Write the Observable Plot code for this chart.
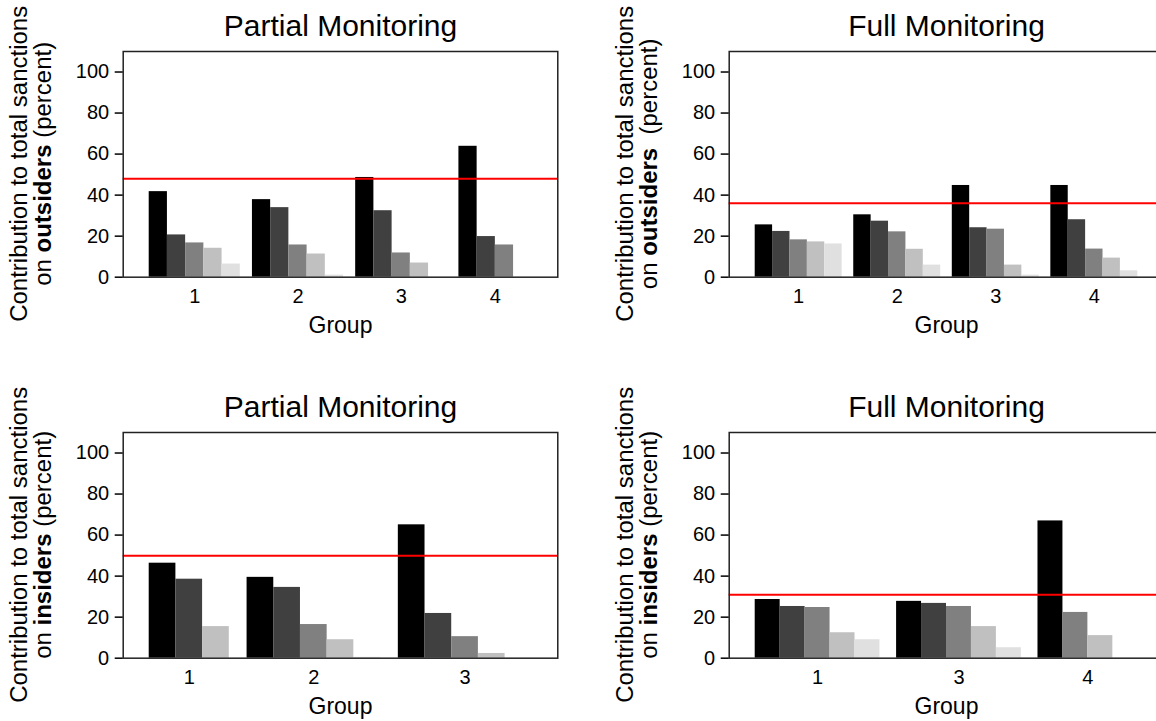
<!DOCTYPE html>
<html><head><meta charset="utf-8">
<script src="https://cdn.jsdelivr.net/npm/d3@7"></script>
<script src="https://cdn.jsdelivr.net/npm/@observablehq/plot@0.6"></script>
<style>
html,body{margin:0;padding:0;background:#fff;}
#fig{position:relative;width:1156px;height:721px;overflow:hidden;background:#fff;}
.panel{position:absolute;}
.panel svg{max-width:none !important;}
</style></head><body><div id="fig"></div>
<script>
// ---------- data ----------
const panelTitles = ["Partial Monitoring", "Full Monitoring", "Partial Monitoring", "Full Monitoring"];
const targetWords = ["outsiders", "outsiders", "insiders", "insiders"];
const memberShades = [1, 2, 3, 4, 5];

// top-left: outsiders, partial monitoring
const groupsTL = ["1", "2", "3", "4"];
const valuesTL = [[41.7, 20.6, 16.7, 14.1, 6.4], [37.8, 33.9, 15.7, 11.3, 1.0], [48.6, 32.4, 11.8, 6.9, 0], [63.8, 19.8, 15.7, 0]];
const membersTL = [[1, 2, 3, 4, 5], [1, 2, 3, 4, 5], [1, 2, 3, 4, 5], [1, 2, 3, 4]];
const refTL = 48.0;

// top-right: outsiders, full monitoring
const groupsTR = ["1", "2", "3", "4"];
const valuesTR = [[25.5, 22.3, 18.2, 17.2, 16.2], [30.4, 27.3, 22.1, 13.6, 5.9], [44.7, 24.1, 23.4, 5.9, 1.0], [44.7, 28.0, 13.7, 9.3, 3.1]];
const membersTR = [[1, 2, 3, 4, 5], [1, 2, 3, 4, 5], [1, 2, 3, 4, 5], [1, 2, 3, 4, 5]];
const refTR = 36.0;

// bottom-left: insiders, partial monitoring
const groupsBL = ["1", "2", "3"];
const valuesBL = [[46.3, 38.5, 15.4], [39.4, 34.5, 16.4, 9.0, 0.4], [65.0, 21.8, 10.5, 2.3, 0]];
const membersBL = [[1, 2, 4], [1, 2, 3, 4, 5], [1, 2, 3, 4, 5]];
const refBL = 49.9;

// bottom-right: insiders, full monitoring
const groupsBR = ["1", "3", "4"];
const valuesBR = [[28.6, 25.2, 24.7, 12.4, 9.0], [27.7, 26.7, 25.2, 15.4, 5.1], [66.9, 22.3, 11.0, 0]];
const membersBR = [[1, 2, 3, 4, 5], [1, 2, 3, 4, 5], [1, 3, 4, 5]];
const refBR = 30.9;

const yTicks = [0, 20, 40, 60, 80, 100];

// ---------- layout ----------
const FONT = '"Liberation Sans", Arial, Helvetica, sans-serif';
const shadeColors = ["#000000", "#404040", "#808080", "#c0c0c0", "#e0e0e0"];
const SVG_W = 605.6, M_LEFT = 122.7, M_RIGHT = 48.3, M_TOP = 51, FRAME_BOTTOM = 276.7;
const FRAME_W = SVG_W - M_LEFT - M_RIGHT;
const OUTER = 26, GAP = 2 / 3;

function buildRows(groups, values, members) {
  const rows = [], centers = [];
  let pos = 0;
  groups.forEach((g, gi) => {
    const n = values[gi].length;
    values[gi].forEach((v, j) => rows.push({group: g, member: members[gi][j], value: v, x1: pos + j, x2: pos + j + 1}));
    centers.push({group: g, c: pos + n / 2});
    pos += n + GAP;
  });
  const U = pos - GAP;
  const w = (FRAME_W - 2 * OUTER) / U;
  const m = OUTER / w;
  return {rows, centers, domain: [-m, U + m]};
}

function panel(cfg) {
  const {rows, centers, domain} = buildRows(cfg.groups, cfg.values, cfg.members);
  const labelOf = new Map(centers.map(d => [d.c, d.group]));
  const svg = Plot.plot({
    width: SVG_W, height: cfg.height,
    marginTop: M_TOP, marginLeft: M_LEFT, marginRight: M_RIGHT, marginBottom: cfg.height - FRAME_BOTTOM,
    style: {fontFamily: FONT, background: "white", color: "black", overflow: "visible", maxWidth: "none"},
    x: {domain, label: null},
    y: {domain: [0, 110], label: null},
    color: {type: "ordinal", domain: memberShades, range: shadeColors},
    marks: [
      Plot.rectY(rows, {x1: "x1", x2: "x2", y1: 0, y2: "value", fill: "member"}),
      Plot.ruleY([cfg.ref], {stroke: "#ff0000", strokeWidth: 2}),
      Plot.frame({stroke: "#222", strokeWidth: 1.5}),
      Plot.axisY({ticks: yTicks, tickSize: 8, tickPadding: 6, fontSize: 20, label: null, strokeWidth: 1.5}),
      Plot.axisX({ticks: centers.map(d => d.c), tickFormat: d => labelOf.get(d), tickSize: 0, tickPadding: 12, fontSize: 20, label: null}),
      Plot.text([cfg.title], {text: d => d, frameAnchor: "top", dy: -15, lineAnchor: "bottom", fontSize: 30}),
      Plot.text(["Group"], {text: d => d, frameAnchor: "bottom", dy: 48, lineAnchor: "middle", fontSize: 23})
    ]
  });
  svg.style.maxWidth = "none";
  svg.style.width = SVG_W + "px";
  // two-line rotated y-axis title with bold word
  const s = d3.select(svg);
  const cy = (M_TOP + FRAME_BOTTOM) / 2;
  s.append("text")
    .attr("transform", `translate(27,${cy}) rotate(-90)`)
    .attr("text-anchor", "middle").attr("font-size", 24).attr("font-family", FONT).attr("fill", "black")
    .text("Contribution to total sanctions");
  const t2 = s.append("text")
    .attr("transform", `translate(51,${cy}) rotate(-90)`)
    .attr("text-anchor", "middle").attr("font-size", 24).attr("font-family", FONT).attr("fill", "black")
    .style("white-space", "pre");
  t2.append("tspan").text("on ");
  t2.append("tspan").attr("font-weight", "bold").text(cfg.word);
  t2.append("tspan").text(cfg.gap + "(percent)");
  const div = document.createElement("div");
  div.className = "panel";
  div.style.left = cfg.left + "px";
  div.style.top = cfg.top + "px";
  div.style.width = SVG_W + "px";
  div.appendChild(svg);
  document.getElementById("fig").appendChild(div);
}

const TOP_H = 381, BOT_H = 340;
panel({title: panelTitles[0], word: targetWords[0], gap: " ", groups: groupsTL, values: valuesTL, members: membersTL, ref: refTL, left: 0, top: 0, height: TOP_H});
panel({title: panelTitles[1], word: targetWords[1], gap: "  ", groups: groupsTR, values: valuesTR, members: membersTR, ref: refTR, left: SVG_W, top: 0, height: TOP_H});
panel({title: panelTitles[2], word: targetWords[2], gap: " ", groups: groupsBL, values: valuesBL, members: membersBL, ref: refBL, left: 0, top: 380.7, height: BOT_H});
panel({title: panelTitles[3], word: targetWords[3], gap: " ", groups: groupsBR, values: valuesBR, members: membersBR, ref: refBR, left: SVG_W, top: 380.7, height: BOT_H});
</script>
</body></html>
